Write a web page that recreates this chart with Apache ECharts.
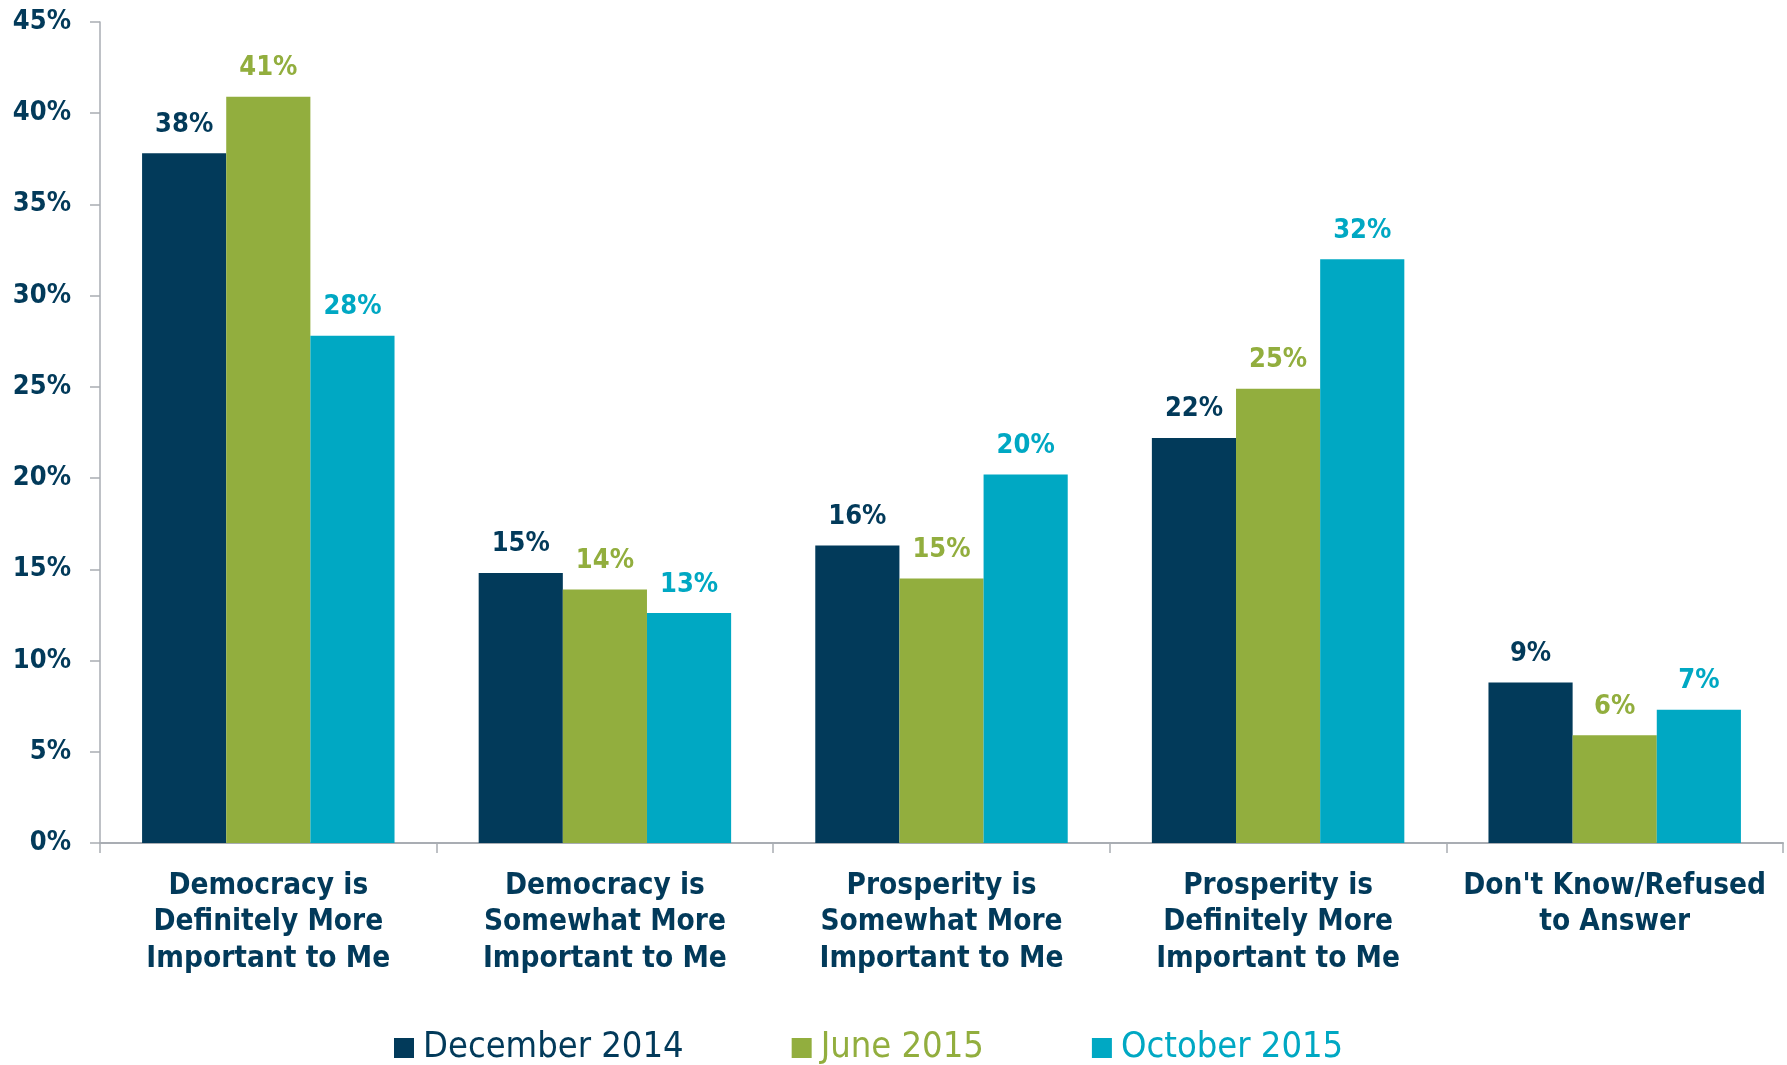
<!DOCTYPE html>
<html>
<head>
<meta charset="utf-8">
<script src="https://cdn.jsdelivr.net/npm/echarts@6/dist/echarts.min.js"></script>
<style>
html,body{margin:0;padding:0;background:#fff;}
#chart{width:1787px;height:1065px;}
</style>
</head>
<body>
<div id="chart"></div>
<script>
var categories = [
  "Democracy is\nDefinitely More\nImportant to Me",
  "Democracy is\nSomewhat More\nImportant to Me",
  "Prosperity is\nSomewhat More\nImportant to Me",
  "Prosperity is\nDefinitely More\nImportant to Me",
  "Don't Know/Refused\nto Answer"
];
var seriesNames = ["December 2014", "June 2015", "October 2015"];
var dec2014 = [37.8, 14.8, 16.3, 22.2, 8.8];
var jun2015 = [40.9, 13.9, 14.5, 24.9, 5.9];
var oct2015 = [27.8, 12.6, 20.2, 32.0, 7.3];
var yTicks = [0, 5, 10, 15, 20, 25, 30, 35, 40, 45];

var colors = ["#023a5a", "#92ae3e", "#00a8c3"];
var FONT = "'DejaVu Sans Condensed', 'DejaVu Sans', sans-serif";

function mkSeries(name, data, color) {
  return {
    name: name,
    type: 'bar',
    data: data,
    barGap: '0%',
    barCategoryGap: '25%',
    itemStyle: { color: color },
    label: {
      show: true,
      position: 'top',
      distance: 15,
      color: color,
      fontFamily: FONT,
      fontWeight: 'bold',
      fontSize: 27,
      formatter: function (p) { return Math.round(p.value) + '%'; }
    }
  };
}

var chart = echarts.init(document.getElementById('chart'), null, { renderer: 'canvas' });
chart.setOption({
  animation: false,
  color: colors,
  grid: { left: 100, right: 4, top: 22, bottom: 222, containLabel: false },
  legend: {
    bottom: -6,
    left: 389,
    itemWidth: 20,
    itemHeight: 20,
    itemGap: 108,
    icon: 'rect',
    data: seriesNames.map(function (n, i) {
      return { name: n, textStyle: { color: colors[i] } };
    }),
    textStyle: { fontFamily: FONT, fontSize: 36, padding: [0, 0, 0, 4] }
  },
  xAxis: {
    type: 'category',
    data: categories,
    axisLine: { lineStyle: { color: '#a9adb3', width: 2 } },
    axisTick: { show: true, length: 10, alignWithLabel: false, lineStyle: { color: '#a9adb3', width: 1.5 } },
    axisLabel: {
      color: '#023a5a',
      fontFamily: FONT,
      fontWeight: 'bold',
      fontSize: 29.5,
      lineHeight: 36.5,
      margin: 25,
      interval: 0
    }
  },
  yAxis: {
    type: 'value',
    min: yTicks[0],
    max: yTicks[yTicks.length - 1],
    interval: 5,
    splitLine: { show: false },
    axisLine: { show: true, lineStyle: { color: '#a9adb3', width: 1.5 } },
    axisTick: { show: true, length: 10, lineStyle: { color: '#a9adb3', width: 1.5 } },
    axisLabel: {
      color: '#023a5a',
      fontFamily: FONT,
      fontWeight: 'bold',
      fontSize: 27,
      margin: 29,
      formatter: function (v) { return v + '%'; }
    }
  },
  series: [
    mkSeries(seriesNames[0], dec2014, colors[0]),
    mkSeries(seriesNames[1], jun2015, colors[1]),
    mkSeries(seriesNames[2], oct2015, colors[2])
  ]
});
</script>
</body>
</html>
